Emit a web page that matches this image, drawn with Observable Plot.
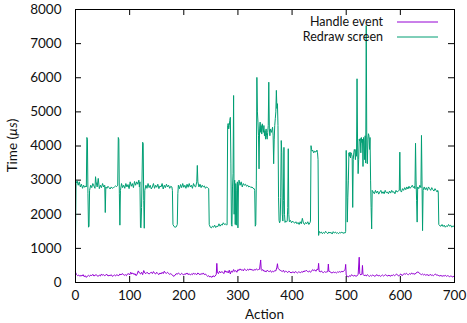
<!DOCTYPE html>
<html>
<head>
<meta charset="utf-8">
<script src="https://cdn.jsdelivr.net/npm/d3@7"></script>
<script src="https://cdn.jsdelivr.net/npm/@observablehq/plot@0.6"></script>
<style>
html,body{margin:0;padding:0;background:#fff;}
</style>
</head>
<body>
<div id="chart"></div>
<script>
const xTicks = [0, 100, 200, 300, 400, 500, 600, 700];
const yTicks = [0, 1000, 2000, 3000, 4000, 5000, 6000, 7000, 8000];
const seriesNames = ["Handle event", "Redraw screen"];
const seriesColors = ["#9400d3", "#009e73"];

// Redraw screen: [action, time µs]
const redraw = [[0,1350],[1,2900],[3,2980],[5,2850],[7,2950],[9,2800],[11,2880],[13,2760],[15,2850],[17,2790],[19,2830],[20,2800],[21,4250],[22,4200],[23,2600],[24,1620],[25,1650],[26,2700],[28,2850],[30,2780],[32,2900],[34,2830],[36,2760],[37,3100],[38,2950],[40,2800],[42,3050],[44,2750],[46,2850],[48,2780],[50,2900],[52,2800],[54,2850],[55,2050],[56,2800],[58,2760],[60,2820],[62,2780],[64,2740],[66,2800],[68,2760],[70,2780],[72,2800],[74,2830],[76,2810],[78,2850],[79,4250],[80,4200],[81,2600],[82,1680],[83,2700],[85,2900],[87,2780],[89,2850],[91,2760],[93,2900],[95,2800],[97,2870],[99,2750],[101,2950],[103,2820],[105,2900],[107,2780],[109,2960],[111,2850],[113,2950],[115,2880],[117,3000],[118,2800],[119,2950],[120,1620],[121,1600],[122,2200],[124,4110],[125,4080],[126,2400],[127,1590],[128,2700],[130,2850],[132,2760],[134,2900],[136,2780],[138,2850],[140,2740],[142,2800],[144,2900],[146,2760],[148,2850],[150,2790],[152,2880],[154,2750],[156,2830],[158,2800],[160,2900],[162,2740],[164,2850],[166,2780],[168,2880],[170,2800],[172,2850],[174,2760],[176,2820],[178,2800],[179,2700],[180,1700],[182,1640],[184,1620],[186,1630],[188,1700],[189,2600],[190,2850],[192,2750],[194,2870],[196,2780],[198,2900],[200,2790],[202,2850],[204,2760],[206,2880],[208,2790],[210,2900],[212,2800],[214,2850],[216,2760],[218,2900],[220,2820],[222,2800],[224,2950],[225,3430],[226,2950],[228,2800],[230,2880],[232,2780],[234,2850],[236,2800],[238,2830],[240,2760],[242,2800],[244,2780],[246,2750],[247,1700],[249,1620],[251,1600],[253,1650],[255,1620],[257,1680],[259,1610],[261,1650],[263,1640],[265,1720],[267,1650],[269,1700],[271,1680],[273,1750],[275,1700],[277,1720],[279,1680],[280,1700],[281,4600],[282,4660],[283,4500],[284,4600],[285,4750],[286,4840],[287,3500],[288,1700],[289,1650],[290,2800],[291,3200],[292,5480],[293,2000],[294,3000],[295,1700],[296,2900],[297,1680],[298,2700],[299,2950],[300,1600],[301,2800],[302,3000],[304,2850],[306,2950],[308,2800],[310,2900],[312,2850],[314,2880],[316,2820],[318,2850],[320,2800],[322,2820],[324,2780],[326,2800],[328,2760],[330,2750],[331,2700],[332,1650],[333,1700],[334,3000],[335,6010],[336,5000],[337,4700],[338,4300],[339,3330],[340,4500],[341,4700],[342,4400],[343,4600],[344,4350],[345,4650],[346,4500],[347,4400],[348,4600],[349,4300],[350,4450],[351,4200],[352,4500],[353,4300],[354,4200],[355,4400],[356,4600],[357,5870],[358,4500],[359,4300],[360,4500],[362,4400],[364,4550],[365,4300],[366,3480],[367,4200],[368,4600],[369,4800],[370,5000],[371,5630],[372,5100],[373,5240],[374,4600],[375,2500],[376,1820],[377,1750],[378,1800],[379,2500],[380,4160],[381,3800],[382,2000],[383,1800],[384,2400],[385,3960],[386,2000],[387,1760],[388,1800],[390,1780],[391,1800],[392,2200],[393,3920],[394,2000],[395,1780],[397,1820],[399,1750],[401,1800],[403,1760],[405,1740],[407,1780],[409,1720],[411,1760],[413,1700],[415,1780],[417,1720],[419,1880],[421,1740],[423,1700],[425,1760],[427,1720],[429,1780],[431,1700],[433,1750],[434,1800],[435,4010],[436,3900],[437,3850],[438,3880],[440,3800],[442,3850],[444,3820],[446,3880],[447,3800],[448,3600],[449,1380],[450,1500],[452,1450],[454,1480],[456,1430],[458,1470],[460,1440],[462,1500],[464,1460],[466,1430],[468,1480],[470,1450],[472,1470],[474,1420],[476,1490],[478,1450],[480,1480],[482,1440],[484,1460],[486,1430],[488,1470],[490,1450],[492,1480],[494,1440],[496,1460],[498,1450],[499,1500],[500,3870],[501,3000],[502,1770],[503,2500],[504,3000],[505,3800],[506,3700],[507,3820],[508,3650],[509,3800],[510,3750],[511,3700],[512,2200],[513,3600],[514,3800],[515,3900],[516,3850],[517,3600],[518,3900],[519,3700],[520,5970],[521,4000],[522,3190],[523,3600],[524,4200],[525,4150],[526,4220],[527,3800],[528,4250],[529,4100],[530,4200],[531,3400],[532,4250],[533,4150],[534,3600],[535,4300],[536,3500],[537,7530],[538,4000],[539,3480],[540,4200],[541,4360],[542,4300],[543,3900],[544,4250],[545,3000],[546,2200],[547,1570],[548,2700],[550,2650],[552,2600],[554,2700],[556,2620],[558,2680],[560,2590],[562,2650],[564,2700],[566,2610],[568,2660],[570,2600],[572,2700],[574,2630],[576,2650],[578,2600],[580,2680],[582,2620],[584,2700],[586,2640],[588,2660],[590,2600],[592,2700],[594,2650],[596,2680],[598,2700],[599,3820],[600,2700],[602,2650],[604,2750],[606,2700],[608,2780],[610,2720],[612,2800],[614,2740],[616,2820],[618,2760],[620,2800],[622,2850],[624,2780],[626,2820],[627,2750],[628,4080],[629,3000],[630,2400],[631,1770],[632,2800],[634,2750],[636,2850],[638,2780],[639,4310],[640,3000],[641,1520],[642,2700],[644,2800],[646,2720],[648,2780],[650,2700],[652,2800],[654,2750],[656,2700],[658,2780],[660,2720],[662,2680],[664,2750],[666,2700],[668,2650],[669,2700],[670,2650],[671,1700],[673,1660],[675,1650],[677,1700],[679,1640],[681,1680],[683,1620],[685,1660],[687,1640],[689,1700],[691,1650],[693,1680],[695,1620],[697,1660],[699,1640],[700,1650]];

// Handle event: [action, time µs]
const handle = [[0,300],[2,230],[4,200],[6,220],[8,180],[10,210],[12,190],[14,230],[16,170],[18,200],[20,150],[22,190],[24,210],[26,180],[28,220],[30,200],[32,240],[34,190],[36,210],[38,230],[40,200],[42,180],[44,220],[46,190],[48,250],[50,210],[52,230],[54,200],[56,220],[58,240],[60,190],[62,210],[64,200],[66,230],[68,180],[70,200],[72,220],[74,190],[76,230],[78,210],[80,200],[82,250],[84,220],[86,260],[88,240],[90,210],[92,230],[94,200],[96,250],[98,260],[100,220],[102,300],[104,250],[106,280],[108,230],[110,260],[112,200],[114,250],[116,340],[118,280],[120,250],[122,300],[124,230],[126,350],[128,280],[130,260],[132,300],[134,270],[136,250],[138,280],[140,300],[142,260],[144,320],[146,270],[148,250],[150,300],[152,260],[154,230],[156,280],[158,250],[160,300],[162,260],[164,330],[166,280],[168,270],[170,300],[172,260],[174,240],[176,260],[178,230],[180,200],[182,180],[184,220],[186,260],[188,240],[190,280],[192,250],[194,230],[196,270],[198,240],[200,220],[202,260],[204,240],[206,280],[208,230],[210,260],[212,220],[214,250],[216,230],[218,280],[220,240],[222,260],[224,230],[226,280],[228,250],[230,230],[232,260],[234,240],[236,280],[238,230],[240,250],[242,210],[244,180],[246,200],[248,160],[250,180],[252,150],[254,200],[256,170],[258,190],[260,240],[261,560],[262,300],[264,260],[266,330],[268,280],[270,320],[272,300],[274,260],[276,350],[278,300],[280,330],[282,280],[284,360],[286,250],[288,340],[290,300],[292,380],[294,320],[296,350],[298,300],[300,380],[302,350],[304,400],[306,360],[308,380],[310,340],[312,400],[314,370],[316,350],[318,390],[320,360],[322,400],[324,370],[326,380],[328,350],[330,380],[332,360],[334,400],[336,370],[338,380],[340,390],[342,660],[343,380],[344,350],[346,380],[348,330],[350,340],[352,310],[354,360],[356,330],[358,320],[360,350],[362,300],[364,330],[366,310],[368,350],[370,340],[372,450],[373,550],[374,420],[376,380],[378,360],[380,340],[382,320],[384,360],[386,300],[388,330],[390,320],[392,290],[394,330],[396,310],[398,280],[400,300],[402,310],[404,280],[406,320],[408,300],[410,280],[412,310],[414,300],[416,290],[418,320],[420,300],[422,340],[424,320],[426,360],[428,330],[430,310],[432,340],[434,300],[436,330],[438,380],[440,350],[442,370],[444,330],[446,390],[448,380],[449,560],[450,330],[452,310],[454,340],[456,300],[458,290],[460,320],[462,300],[464,310],[466,320],[467,540],[468,330],[470,320],[472,290],[474,280],[476,310],[478,290],[480,300],[482,280],[484,310],[486,300],[488,320],[490,300],[492,330],[494,310],[496,350],[498,380],[499,530],[500,220],[502,180],[504,160],[506,200],[508,180],[510,230],[512,200],[514,190],[516,210],[518,180],[520,200],[522,230],[524,740],[525,260],[527,220],[529,250],[530,500],[531,240],[533,200],[535,220],[537,190],[539,230],[541,200],[543,180],[545,210],[547,190],[549,220],[551,200],[553,180],[555,210],[557,230],[559,190],[561,210],[563,180],[565,200],[567,220],[569,190],[571,210],[573,230],[575,200],[577,190],[579,220],[581,180],[583,210],[585,200],[587,230],[589,200],[591,220],[593,250],[595,210],[597,190],[599,230],[601,250],[603,200],[605,230],[607,260],[609,240],[611,270],[613,240],[615,230],[617,260],[619,240],[621,280],[623,250],[625,260],[627,240],[629,280],[631,300],[633,310],[635,270],[637,250],[639,230],[641,250],[643,220],[645,240],[647,210],[649,230],[651,220],[653,200],[655,240],[657,210],[659,220],[661,200],[663,230],[665,250],[667,210],[669,220],[671,200],[673,190],[675,210],[677,180],[679,200],[681,190],[683,210],[685,180],[687,200],[689,190],[691,170],[693,190],[695,180],[697,160],[699,190],[700,170]];

const W = 467, H = 323, mL = 75, mR = 13, mT = 9, mB = 41;
const innerW = W - mL - mR, innerH = H - mT - mB;
const tickLen = 6;
const FONT = "Lato, 'Liberation Sans', sans-serif";

const chart = Plot.plot({
  width: W, height: H,
  marginLeft: mL, marginRight: mR, marginTop: mT, marginBottom: mB,
  style: {fontFamily: FONT, fontSize: "13.5px", color: "#111", background: "#fff"},
  x: {domain: [0, 700], ticks: xTicks, tickSize: 0, tickPadding: 8, tickFormat: d => String(d), label: null},
  y: {domain: [0, 8000], ticks: yTicks, tickSize: 0, tickPadding: 14, tickFormat: d => String(d), label: null},
  marks: [
    Plot.tickY(yTicks, {y: d => d, insetRight: innerW - tickLen, stroke: "#000"}),
    Plot.tickY(yTicks, {y: d => d, insetLeft: innerW - tickLen, stroke: "#000"}),
    Plot.tickX(xTicks, {x: d => d, insetTop: innerH - tickLen, stroke: "#000"}),
    Plot.tickX(xTicks, {x: d => d, insetBottom: innerH - tickLen, stroke: "#000"}),
    Plot.line(handle, {x: d => d[0], y: d => d[1], stroke: seriesColors[0], strokeWidth: 1}),
    Plot.line(redraw, {x: d => d[0], y: d => d[1], stroke: seriesColors[1], strokeWidth: 1}),
    Plot.frame({stroke: "#000", strokeWidth: 1})
  ]
});

const svg = d3.select(chart);
// axis labels
const yl = svg.append("text")
  .attr("transform", `translate(17,${mT + innerH / 2}) rotate(-90)`)
  .attr("text-anchor", "middle")
  .attr("fill", "#111")
  .attr("font-family", FONT)
  .attr("font-size", "13.5px");
yl.append("tspan").text("Time (");
yl.append("tspan").attr("font-style", "italic").text("µs");
yl.append("tspan").text(")");

svg.append("text")
  .attr("x", mL + innerW / 2).attr("y", 319)
  .attr("text-anchor", "middle")
  .attr("fill", "#111")
  .attr("font-family", FONT)
  .attr("font-size", "13.5px")
  .text("Action");

// legend
const legY = [21.5, 36.5];
seriesNames.forEach((name, i) => {
  svg.append("text")
    .attr("x", 383).attr("y", legY[i] + 4.3)
    .attr("text-anchor", "end")
    .attr("fill", "#111")
    .attr("font-family", FONT)
    .attr("font-size", "12.5px")
    .text(name);
  svg.append("line")
    .attr("x1", 397).attr("x2", 438)
    .attr("y1", legY[i] + 0.5).attr("y2", legY[i] + 0.5)
    .attr("stroke", seriesColors[i]).attr("stroke-width", 1);
});

document.getElementById("chart").appendChild(chart);
</script>
</body>
</html>
